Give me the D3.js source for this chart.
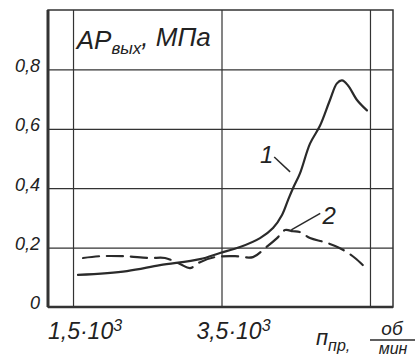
<!DOCTYPE html>
<meta charset="utf-8">
<style>
    body { margin: 0; background: #fff; }
    text { font-family: "Liberation Sans", sans-serif; font-style: italic; fill: #222; }
    .grid line { stroke: #333; stroke-width: 1.2px; }
    .grid path { display: none; }
    .axis path, .axis line { display: none; }
    .curve { fill: none; stroke: #2a2a2a; stroke-width: 2.2px; stroke-linecap: round; }
</style>
<body>
<script src="https://cdn.jsdelivr.net/npm/d3@7"></script>
<script>
    // curve 1 (solid): rpm, MPa
    var rpm1 = [1567, 2227, 2672, 3210, 3480, 3750, 4019, 4194, 4315, 4396, 4463, 4557, 4692, 4826, 4961, 5055, 5123, 5204, 5325, 5459];
    var dp1  = [0.108, 0.121, 0.141, 0.161, 0.182, 0.202, 0.232, 0.266, 0.310, 0.36, 0.40, 0.45, 0.55, 0.61, 0.697, 0.753, 0.763, 0.746, 0.697, 0.662];

    // curve 2 (dashed)
    var rpm2 = [1635, 1864, 2173, 2537, 2739, 2941, 3076, 3210, 3412, 3682, 3924, 4086, 4248, 4355, 4463, 4557, 4692, 4894, 5096, 5298, 5473];
    var dp2  = [0.165, 0.171, 0.171, 0.165, 0.165, 0.145, 0.131, 0.151, 0.168, 0.171, 0.168, 0.198, 0.232, 0.259, 0.255, 0.252, 0.232, 0.218, 0.198, 0.165, 0.124];

    var yTicks = [0, 0.2, 0.4, 0.6, 0.8];
    var yLabels = ["0", "0,2", "0,4", "0,6", "0,8"];
    var xTicks = [1500, 3500, 5500];
    var xLabels = ["1,5·10", "3,5·10", ""];

    var width = 418, height = 361;
    var margin = {top: 10, right: 25, bottom: 54, left: 48};
    var w = width - margin.left - margin.right,
        h = height - margin.top - margin.bottom;

    var svg = d3.select("body").append("svg")
        .attr("width", width)
        .attr("height", height);

    var g = svg.append("g").attr("transform", "translate(" + margin.left + "," + margin.top + ")");

    var x = d3.scaleLinear().domain([1163, 5810]).range([0, w]),
        y = d3.scaleLinear().domain([0, 1]).range([h, 0]);

    // grid
    g.append("g")
        .attr("class", "grid")
        .call(d3.axisLeft(y).tickValues(yTicks.slice(1)).tickSize(-w).tickFormat(""));
    g.append("g")
        .attr("class", "grid")
        .attr("transform", "translate(0," + h + ")")
        .call(d3.axisBottom(x).tickValues(xTicks).tickSize(h).tickFormat(""))
        .selectAll("line").attr("y2", -h);

    // frame
    g.append("rect")
        .attr("width", w).attr("height", h)
        .attr("fill", "none").attr("stroke", "#333").attr("stroke-width", 1.5);
    g.append("line").attr("x1", 0).attr("x2", 0).attr("y1", 0).attr("y2", h)
        .attr("stroke", "#333").attr("stroke-width", 3);
    g.append("line").attr("x1", 0).attr("x2", w).attr("y1", h).attr("y2", h)
        .attr("stroke", "#333").attr("stroke-width", 2.5);

    // y tick labels
    g.append("g")
        .attr("class", "axis")
        .call(d3.axisLeft(y).tickValues(yTicks).tickSize(0).tickPadding(8)
            .tickFormat(function(d, i) { return yLabels[i]; }))
        .selectAll("text")
        .style("font-size", "18px")
        .attr("dy", "0.1em");

    // x tick labels with superscript
    var xt = g.append("g")
        .attr("class", "axis")
        .attr("transform", "translate(0," + h + ")")
        .call(d3.axisBottom(x).tickValues(xTicks).tickSize(0).tickPadding(10)
            .tickFormat(function(d, i) { return xLabels[i]; }));
    xt.selectAll("text")
        .style("font-size", "23px")
        .attr("dy", "0.95em")
        .attr("dx", "0.5em")
        .each(function(d, i) {
            if (!xLabels[i]) return;
            d3.select(this).append("tspan")
                .attr("dy", "-0.5em")
                .style("font-size", "16px")
                .text("3");
        });

    // curves
    var line = d3.line()
        .curve(d3.curveCatmullRom)
        .x(function(d) { return x(d[0]); })
        .y(function(d) { return y(d[1]); });

    g.append("path")
        .attr("class", "curve")
        .attr("d", line(d3.zip(rpm1, dp1)));

    g.append("path")
        .attr("class", "curve")
        .attr("stroke-dasharray", "16,8")
        .attr("d", line(d3.zip(rpm2, dp2)));

    // curve labels with leaders
    var notes = [
        {name: "1", from: [4424, 0.455], to: [4210, 0.505], tx: [4020, 0.485]},
        {name: "2", from: [4440, 0.26], to: [4830, 0.315], tx: [4860, 0.28]}
    ];
    notes.forEach(function(n) {
        g.append("line")
            .attr("x1", x(n.from[0])).attr("y1", y(n.from[1]))
            .attr("x2", x(n.to[0])).attr("y2", y(n.to[1]))
            .attr("stroke", "#2a2a2a").attr("stroke-width", 1.5);
        g.append("text")
            .attr("x", x(n.tx[0])).attr("y", y(n.tx[1]))
            .style("font-size", "24px")
            .text(n.name);
    });

    // y title
    var yt = g.append("text")
        .attr("x", x(1550)).attr("y", y(0.87))
        .style("font-size", "26px");
    yt.append("tspan").text("AP");
    yt.append("tspan").attr("dy", "0.3em").style("font-size", "17px").text("вых");
    yt.append("tspan").attr("dy", "-0.3em").text(", МПа");

    // x title
    var xl = svg.append("g");
    var nt = xl.append("text").attr("x", 316).attr("y", 345).style("font-size", "22px");
    nt.append("tspan").text("п");
    nt.append("tspan").attr("dy", "0.35em").style("font-size", "16px").text("пр,");
    xl.append("text").attr("x", 392).attr("y", 335).attr("text-anchor", "middle")
        .style("font-size", "19px").text("об");
    xl.append("line").attr("x1", 370).attr("x2", 415).attr("y1", 340).attr("y2", 340)
        .attr("stroke", "#2a2a2a").attr("stroke-width", 1.5);
    xl.append("text").attr("x", 393).attr("y", 354).attr("text-anchor", "middle")
        .style("font-size", "16px").text("мин");
</script>
</body>
